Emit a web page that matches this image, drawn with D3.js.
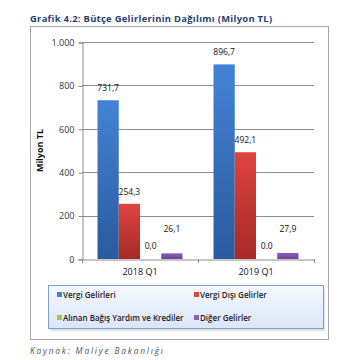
<!DOCTYPE html>
<html>
<head>
<meta charset="utf-8">
<script src="https://cdn.jsdelivr.net/npm/d3@7"></script>
<style>
  body { margin: 0; background: #fff; }
  text { font-family: "Open Sans", "Noto Sans", sans-serif; }
</style>
</head>
<body>
<svg id="chart" width="350" height="360"></svg>
<script>
// chart data
const categories = ["2018 Q1", "2019 Q1"];
const seriesNames = ["Vergi Gelirleri", "Vergi Dışı Gelirler", "Alınan Bağış Yardım ve Krediler", "Diğer Gelirler"];
const vergi = [731.7, 896.7];
const vergiDisi = [254.3, 492.1];
const bagis = [0, 0];
const diger = [26.1, 27.9];
const labels2018 = ["731,7", "254,3", "0,0", "26,1"];
const labels2019 = ["896,7", "492,1", "0.0", "27,9"];
const yTicks = [0, 200, 400, 600, 800, 1000];
const yTickLabels = ["0", "200", "400", "600", "800", "1.000"];

const seriesValues = [vergi, vergiDisi, bagis, diger];
const seriesLabels = [labels2018, labels2019];
const colors = [["#4383d6", "#2b5a9e"], ["#e0443f", "#a52a27"], ["#9bc455", "#76a03a"], ["#8a5fba", "#6a4598"]];

const svg = d3.select("#chart");
const defs = svg.append("defs");
colors.forEach((c, i) => {
    const gr = defs.append("linearGradient").attr("id", "grad" + i)
        .attr("x1", 0).attr("y1", 0).attr("x2", 0).attr("y2", 1);
    gr.append("stop").attr("offset", "0%").attr("stop-color", c[0]);
    gr.append("stop").attr("offset", "100%").attr("stop-color", c[1]);
});
const lg = defs.append("linearGradient").attr("id", "legGrad")
    .attr("x1", 0).attr("y1", 0).attr("x2", 0).attr("y2", 1);
lg.append("stop").attr("offset", "0%").attr("stop-color", "#f4f8fe");
lg.append("stop").attr("offset", "100%").attr("stop-color", "#dbe6f7");

// title
svg.append("text").attr("x", 30).attr("y", 22)
    .attr("font-size", 9.4).attr("font-weight", "bold").attr("fill", "#1f3f73")
    .attr("letter-spacing", 0.3)
    .text("Grafik 4.2: Bütçe Gelirlerinin Dağılımı (Milyon TL)");

// outer frame
svg.append("rect").attr("x", 30.5).attr("y", 26.5).attr("width", 298).attr("height", 313)
    .attr("fill", "none").attr("stroke", "#a6a6a6").attr("stroke-width", 1);

const plotLeft = 82, plotRight = 314, plotTop = 42, plotBottom = 259;

const y = d3.scaleLinear().domain([0, 1000]).range([plotBottom, plotTop]);
const x0 = d3.scaleBand().domain(categories).range([plotLeft, plotRight]);
const x1 = d3.scaleBand().domain(d3.range(seriesNames.length))
    .range([0, x0.bandwidth()]).paddingOuter(0.73).paddingInner(0);

// grid
svg.append("g").selectAll("line").data(yTicks.filter(t => t > 0)).join("line")
    .attr("x1", plotLeft).attr("x2", plotRight)
    .attr("y1", d => Math.round(y(d)) + 0.5).attr("y2", d => Math.round(y(d)) + 0.5)
    .attr("stroke", "#8c8c8c").attr("stroke-width", 1);

// y axis
const yAxis = svg.append("g").attr("transform", "translate(" + (plotLeft + 0.5) + ",0.5)")
    .call(d3.axisLeft(y).tickValues(yTicks).tickSize(4).tickFormat((d, i) => yTickLabels[i]));
yAxis.select(".domain").attr("stroke", "#8c8c8c");
yAxis.selectAll(".tick line").attr("stroke", "#8c8c8c");
yAxis.selectAll(".tick text").attr("font-size", 9).attr("fill", "#333").attr("x", -8)
    .attr("font-family", "\"Open Sans\", sans-serif");

svg.append("text").attr("transform", "translate(43," + ((plotTop + plotBottom) / 2) + ") rotate(-90)")
    .attr("text-anchor", "middle").attr("font-size", 9).attr("font-weight", "bold").attr("fill", "#111")
    .text("Milyon TL");

// bars
const groups = svg.append("g").selectAll("g").data(categories).join("g")
    .attr("transform", d => "translate(" + x0(d) + ",0)");

groups.each(function (cat, ci) {
    const g = d3.select(this);
    const rows = seriesNames.map((s, si) => ({ si: si, v: seriesValues[si][ci], label: seriesLabels[ci][si] }));
    g.selectAll("rect").data(rows).join("rect")
        .attr("x", d => x1(d.si))
        .attr("width", x1.bandwidth())
        .attr("y", d => y(d.v))
        .attr("height", d => y(0) - y(d.v))
        .attr("fill", d => "url(#grad" + d.si + ")");
    g.selectAll("text").data(rows).join("text")
        .attr("x", d => x1(d.si) + x1.bandwidth() / 2)
        .attr("y", d => y(d.v) - (d.si === 3 ? 21 : d.v === 0 ? 10 : 9))
        .attr("text-anchor", "middle").attr("font-size", 8.5).attr("fill", "#111")
        .text(d => d.label);
});

// x axis
const xAxis = svg.append("g").attr("transform", "translate(0," + (plotBottom + 0.5) + ")")
    .call(d3.axisBottom(x0).tickSize(0).tickPadding(9));
xAxis.select(".domain").attr("stroke", "#8c8c8c");
xAxis.selectAll(".tick text").attr("font-size", 9).attr("fill", "#111")
    .attr("font-family", "\"Open Sans\", sans-serif");
svg.append("g").selectAll("line").data([plotLeft, x0(categories[1]), plotRight]).join("line")
    .attr("x1", d => Math.round(d) + 0.5).attr("x2", d => Math.round(d) + 0.5)
    .attr("y1", plotBottom).attr("y2", plotBottom + 4).attr("stroke", "#8c8c8c");

// legend
svg.append("rect").attr("x", 50).attr("y", 287).attr("width", 275).attr("height", 44)
    .attr("fill", "#c9cfd8").attr("opacity", 0.6);
svg.append("rect").attr("x", 48.5).attr("y", 285.5).attr("width", 275).attr("height", 43)
    .attr("fill", "url(#legGrad)").attr("stroke", "#7f9fcc").attr("stroke-width", 1);

const legend = svg.append("g").selectAll("g").data(seriesNames).join("g")
    .attr("transform", (d, i) => "translate(" + (i % 2 === 0 ? 57 : 194) + "," + (i < 2 ? 295 : 318) + ")");
legend.append("rect").attr("x", 0).attr("y", -3).attr("width", 5).attr("height", 5)
    .attr("fill", (d, i) => colors[i][0]);
legend.append("text").attr("x", 6).attr("y", 2.8)
    .attr("font-size", 8).attr("font-weight", 600).attr("fill", "#222")
    .text(d => d);

// source
svg.append("text").attr("x", 30).attr("y", 354)
    .attr("font-size", 8.4).attr("font-style", "italic").attr("fill", "#555")
    .attr("letter-spacing", 1.8)
    .text("Kaynak: Maliye Bakanlığı");
</script>
</body>
</html>
